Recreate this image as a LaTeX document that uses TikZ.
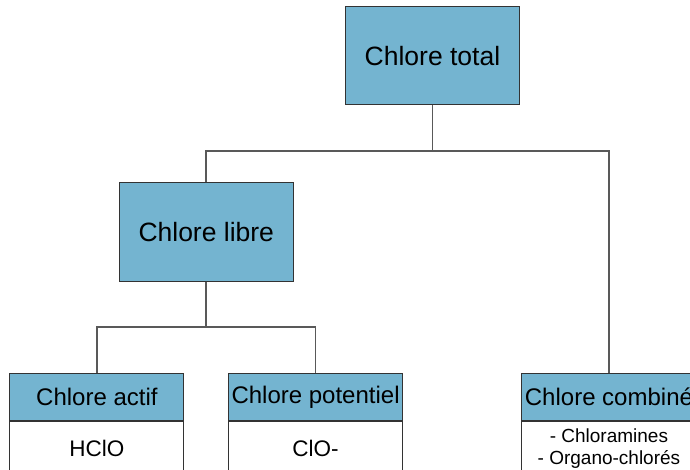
\documentclass[tikz,border=0pt]{standalone}
\usepackage{fontspec}
\setmainfont{Liberation Sans}
\usepackage{tikz}
\usetikzlibrary{trees,positioning}
\definecolor{chlorebleu}{RGB}{116,180,208}

\begin{document}
\begin{tikzpicture}[x=1pt,y=1pt,
  box/.style={draw=black!80,line width=1pt,fill=chlorebleu,minimum width=174pt,
    minimum height=98pt,inner sep=0pt,font=\fontsize{26.5}{30}\selectfont},
  head/.style={box,minimum height=47.4pt,font=\fontsize{24}{28}\selectfont},
  body/.style={draw=black!80,line width=1pt,fill=white,minimum width=174pt,
    minimum height=53pt,inner sep=0pt,align=center,font=\fontsize{22.5}{26}\selectfont},
  edge from parent/.style={draw=black!65,line width=1.6pt},
  edge from parent path={(\tikzparentnode.south) -- ++(0,-45.5) -| (\tikzchildnode.north)},
  level 1/.style={level distance=176pt,sibling distance=402.7pt},
  level 2/.style={level distance=165pt,sibling distance=218.7pt}]
  \useasboundingbox (0,0) rectangle (690,-470);
  \node[box] (total) at (432.5,-56) {Chlore total}
    child {node[box,xshift=-24.9pt] (libre) {Chlore libre}
      child {node[head] (actif) {Chlore actif}}
      child {node[head] (potentiel) {Chlore potentiel}}
    }
    child[level distance=341pt] {node[head,xshift=-24.9pt] (combine) {Chlore combiné}};
  \node[body,below=0pt of actif] (hclo) {HClO};
  \node[body,below=0pt of potentiel] (clo) {ClO-};
  \node[body,below=0pt of combine,font=\fontsize{19}{22}\selectfont] (composes)
    {- Chloramines\\- Organo-chlorés};
\end{tikzpicture}
\end{document}
